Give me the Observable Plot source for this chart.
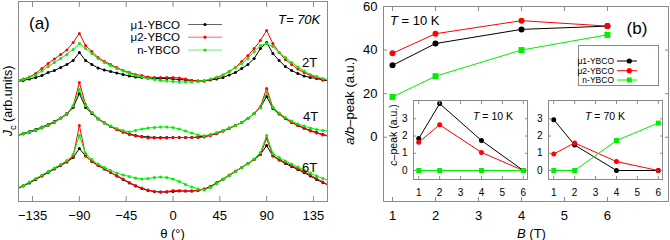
<!DOCTYPE html>
<html><head><meta charset="utf-8">
<script src="https://cdn.jsdelivr.net/npm/d3@7"></script>
<script src="https://cdn.jsdelivr.net/npm/@observablehq/plot@0.6"></script>
<style>
body{margin:0;background:#fff;}
#root{position:relative;width:670px;height:240px;overflow:hidden;background:#fff;}
#root svg{position:absolute;}
</style></head><body><div id="root"></div>
<script>
// ---------- Panel (a) data ----------
const thetaDeg = [-150,-144,-138,-132,-126,-120,-114,-108,-102,-96,-90,-84,-78,-72,-66,-60,-54,-48,-42,-36,-30,-24,-18,-12,-6,0,6,12,18,24,30,36,42,48,54,60,66,72,78,84,90,96,102,108,114,120,126,132,138,144,150];
const thetaTicks = [-135,-90,-45,0,45,90,135];
const samples = ["μ1-YBCO","μ2-YBCO","n-YBCO"];
const sampleColors = ["#000000","#ff0000","#00ee00"];
const fields = ["2T","4T","6T"];

const jc_mu1_2T = [120,121,122.5,124,126,129,131,134,137,141,149,141,137,133.5,131.5,130,128.5,127,125.5,124.5,124,123.5,123,123,123,122.5,122,121.5,121,120.5,120.5,121.5,122.5,124,126.5,129,133,137,143,153,159,148,141,135,131,128,125.5,124,123,121.5,120.5];
const jc_mu2_2T = [121,122.5,124.5,128,133,138,142.5,147,151.5,159,168,156,150,144,140,137,134,131,129,127,126,124.5,124,124,124,124,123.5,122.5,121,120.5,120.5,122,123.5,126.5,130,134,140,146,153,161,171,158,149,142,137,132.5,129,126,124,122,121];
const jc_n_2T   = [120.5,122,124,126.5,130.5,135,139,143,147,152,158,153,148,143,139,136,133,130.5,128,126,124.5,123,122,121,120.5,120,119.5,119.5,119.5,120,121,122.5,124.5,126.5,130,134,138,143,150,156,158,155,149,144,139,134.5,130.5,127,125,123,121.5];
const jc_mu1_4T = [66,68,70,72,74.5,77,80,83.5,88,94,108,94,88,82.5,78.5,75,72,69.5,67.5,66,65,64.5,64,64,64,64,64,64,64,64.5,65.5,66.5,68,70.5,73.5,76,79,83,88,94,105,93,87.5,83,79,76,73.5,71,69,67,65.5];
const jc_mu2_4T = [65.5,67.5,69,71,73.5,76,79,83,87,95,119,97,89,83,79,75,72,69.5,67,65.5,64.5,63.5,63.5,63.5,63.5,64,64,64,64,64,64.5,66,68,70.5,73,76,79,83,88,95,113,94,88,83,79,76,73,70.5,68.5,66.5,65];
const jc_n_4T   = [66,68,69.5,71.5,74,76.5,79.5,83,87.5,96,112,96,89,83,79,75.5,73,71,69.5,71,72.5,73.5,74,74.5,74.5,74,72.5,70.5,68.5,66.5,65.5,67,69,71,73.5,76,79,83,88,94,109,94,88.5,84,80.5,77.5,75.5,73.5,72,71,70.5];
const jc_mu1_6T = [12.5,15.5,18.5,22,25.5,29,32.5,36,39.5,44,53,45.5,40,36,32.5,29,25.5,22,18.5,15.5,13,11,10,9.5,9.5,10,10.5,10.5,10.5,11,12.5,15,18.5,22,26,30,34,38,42,47,56,45.5,41.5,38,35,32,29,25.5,22,19,16];
const jc_mu2_6T = [13,16,19,22.5,26,29.5,33,36.5,40,45,76,46,40,36,32.5,29,26,22.5,19,16,13.5,11.5,10,9.5,10,11,11,10.5,10.5,11,12.5,15,19,22.5,26.5,30.5,34,38,42,47,63,46,42,39,36,33,30,26.5,23,19.5,16];
const jc_n_6T   = [13,16,19.5,23,26.5,30,33.5,37,41,47,66,48,42,37.5,34,31,28.5,26.5,25,23.5,22.5,23,24,24.5,24,22.5,20,17,14.5,12.5,11.5,14,18,22,26,30,34,38,42.5,49,66,48,44,40.5,37.5,34.5,31.5,28.5,25.5,23,21];

// ---------- Panel (b) data ----------
const fieldB = [1,2,4,6];
const fieldTicksB = [1,2,3,4,5,6];
const abTicks = [0,20,40,60];
const ab_mu1_10K = [33,43,49.5,51];
const ab_mu2_10K = [38.5,47.5,53.5,51];
const ab_n_10K   = [18.5,28,40,47];
const cTicks = [0,1,2,3];
const c_mu1_10K = [1.85,3.88,1.74,0];
const c_mu2_10K = [1.64,2.65,1.05,0];
const c_n_10K   = [0,0,0,0];
const c_mu1_70K = [2.95,1.48,0,0];
const c_mu2_70K = [0.96,1.6,0.52,0];
const c_n_70K   = [0,0,1.74,2.75];

const FONT = "Liberation Sans, Arial, Helvetica, sans-serif";
const GRAY = "#8a8a8a";
const root = document.getElementById("root");

// tables built from the arrays
const seriesA = [
  [samples[0], fields[0], jc_mu1_2T],[samples[1], fields[0], jc_mu2_2T],[samples[2], fields[0], jc_n_2T],
  [samples[0], fields[1], jc_mu1_4T],[samples[1], fields[1], jc_mu2_4T],[samples[2], fields[1], jc_n_4T],
  [samples[0], fields[2], jc_mu1_6T],[samples[1], fields[2], jc_mu2_6T],[samples[2], fields[2], jc_n_6T]
];
const rowsA = seriesA.flatMap(([s,f,arr]) => thetaDeg.map((t,i) => ({theta:t, jc:arr[i], sample:s, field:f})));
const toRows = (arr, s) => fieldB.map((b,i) => ({B:b, v:arr[i], sample:s}));

function boxAxes(xt, yt, {tick=4, xPad=9, yPad=6, fs=13} = {}) {
  const m = [Plot.frame({stroke: GRAY})];
  if (xt) {
    m.push(Plot.axisX(xt, {anchor:"bottom", tickSize:-tick, stroke:GRAY, fill:"none", label:null}));
    m.push(Plot.axisX(xt, {anchor:"top", tickSize:-tick, stroke:GRAY, fill:"none", label:null}));
    m.push(Plot.axisX(xt, {anchor:"bottom", tickSize:0, tickPadding:xPad, fontSize:fs, fill:"black", label:null}));
  }
  if (yt) {
    m.push(Plot.axisY(yt, {anchor:"left", tickSize:-tick, stroke:GRAY, fill:"none", label:null}));
    m.push(Plot.axisY(yt, {anchor:"right", tickSize:-tick, stroke:GRAY, fill:"none", label:null}));
    m.push(Plot.axisY(yt, {anchor:"left", tickSize:0, tickPadding:yPad, fontSize:fs, fill:"black", label:null}));
  }
  return m;
}

function rich(svg, x, y, parts, {size=13, anchor="start", rotate=0} = {}) {
  const t = d3.select(svg).append("text")
    .attr("transform", `translate(${x},${y})` + (rotate ? ` rotate(${rotate})` : ""))
    .attr("text-anchor", anchor).attr("font-size", size).attr("font-family", FONT)
    .attr("fill", "black").attr("dy", "0.35em");
  for (const p of parts) {
    const s = t.append("tspan").text(p.t);
    if (p.i) s.attr("font-style", "italic");
    if (p.sub) s.attr("font-size", size * 0.75).attr("dy", size * 0.3);
    if (p.unsub) s.attr("dy", -size * 0.3);
  }
}
function place(svg, left, top) { svg.style.left = left + "px"; svg.style.top = top + "px"; root.appendChild(svg); }

// ---------- Panel (a) ----------
const marksA = [];
samples.forEach((s, si) => {
  const rows = rowsA.filter(d => d.sample === s);
  marksA.push(Plot.line(rows, {x:"theta", y:"jc", z:"field", stroke:sampleColors[si], strokeWidth:1, clip:true}));
  marksA.push(Plot.dot(rows, {x:"theta", y:"jc", r:1.5, fill:sampleColors[si], stroke:"none", clip:true}));
});
const plotA = Plot.plot({
  width:335, height:240, marginLeft:18, marginRight:8, marginTop:1, marginBottom:39,
  x:{domain:[-148.5,148.5], axis:null},
  y:{domain:[0,200], axis:null},
  style:{fontFamily:FONT, fontSize:"13px", background:"transparent", color:"black"},
  marks:[...marksA, ...boxAxes(thetaTicks, null, {tick:5})]
});
place(plotA, 0, 0);
rich(plotA, 29, 23, [{t:"(a)"}], {size:17});
rich(plotA, 278, 19.5, [{t:"T= 70K", i:true}], {size:13});
rich(plotA, 302, 62, [{t:fields[0]}]);
rich(plotA, 303, 116, [{t:fields[1]}]);
rich(plotA, 302, 167, [{t:fields[2]}]);
rich(plotA, 172.5, 233, [{t:"θ (°)"}], {anchor:"middle"});
rich(plotA, 8, 101, [{t:"J", i:true},{t:"c", sub:true},{t:" (arb.units)", unsub:true}], {size:12.5, anchor:"middle", rotate:-90});
{
  const g = d3.select(plotA).append("g");
  const ys = [24.5, 37.2, 50];
  samples.forEach((s, i) => {
    rich(plotA, 180, ys[i], [{t:s}], {size:11.5, anchor:"end"});
    g.append("line").attr("x1",188).attr("x2",222).attr("y1",ys[i]).attr("y2",ys[i]).attr("stroke",sampleColors[i]).attr("stroke-opacity",0.6);
    g.append("circle").attr("cx",205).attr("cy",ys[i]).attr("r",1.6).attr("fill",sampleColors[i]);
  });
}

// ---------- Panel (b) main ----------
const mainSeries = [[ab_mu1_10K, 0, "circle"], [ab_mu2_10K, 1, "circle"], [ab_n_10K, 2, "square"]];
const marksB = [];
mainSeries.forEach(([arr, si, sym]) => {
  const rows = toRows(arr, samples[si]);
  marksB.push(Plot.line(rows, {x:"B", y:"v", stroke:sampleColors[si], strokeWidth:1}));
  marksB.push(Plot.dot(rows, {x:"B", y:"v", r: sym === "square" ? 3.4 : 3, symbol:sym, fill:sampleColors[si], stroke:"none"}));
});
const plotB = Plot.plot({
  width:335, height:240, marginLeft:48, marginRight:2, marginTop:6, marginBottom:39,
  x:{domain:[0.79,7.42], axis:null},
  y:{domain:[-29.5,60], axis:null},
  style:{fontFamily:FONT, fontSize:"13px", background:"transparent", color:"black"},
  marks:[...marksB, ...boxAxes(fieldTicksB, abTicks, {tick:4})]
});
place(plotB, 335, 0);
rich(plotB, 302, 28, [{t:"(b)"}], {size:17, anchor:"middle"});
rich(plotB, 55, 20.7, [{t:"T", i:true},{t:" = 10 K"}], {size:13});
rich(plotB, 196.5, 233, [{t:"B", i:true},{t:" (T)"}], {anchor:"middle"});
rich(plotB, 14, 101, [{t:"a/b", i:true},{t:"–peak (a.u.)"}], {size:13, anchor:"middle", rotate:-90});
rich(plotB, 58, 135, [{t:"c", i:true},{t:"–peak (a.u.)"}], {size:10.5, anchor:"middle", rotate:-90});
{
  const g = d3.select(plotB).append("g");
  g.append("rect").attr("x",243.5).attr("y",45.5).attr("width",80).attr("height",40).attr("fill","white").attr("stroke",GRAY);
  const ys = [61, 70.7, 80];
  samples.forEach((s, i) => {
    rich(plotB, 279, ys[i], [{t:s}], {size:8.5, anchor:"end"});
    g.append("line").attr("x1",282).attr("x2",302).attr("y1",ys[i]).attr("y2",ys[i]).attr("stroke",sampleColors[i]);
    if (i < 2) g.append("circle").attr("cx",294.3).attr("cy",ys[i]).attr("r",2.6).attr("fill",sampleColors[i]);
    else g.append("rect").attr("x",291.8).attr("y",ys[i]-2.5).attr("width",5).attr("height",5).attr("fill",sampleColors[i]);
  });
}

// ---------- Insets ----------
function inset(seriesList, label, left, top, labelX) {
  const marks = [Plot.frame({fill:"white"})];
  seriesList.forEach(([arr, si, sym]) => {
    const rows = toRows(arr, samples[si]);
    marks.push(Plot.line(rows, {x:"B", y:"v", stroke:sampleColors[si], strokeWidth:1}));
    marks.push(Plot.dot(rows, {x:"B", y:"v", r: sym === "square" ? 2.8 : 2.5, symbol:sym, fill:sampleColors[si], stroke:"none"}));
  });
  const p = Plot.plot({
    width:145, height:110, marginLeft:25, marginRight:6, marginTop:8, marginBottom:23,
    x:{domain:[0.75,6.2], axis:null},
    y:{domain:[-0.52,4.06], axis:null},
    style:{fontFamily:FONT, fontSize:"10px", background:"transparent", color:"black"},
    marks:[...marks, ...boxAxes(fieldTicksB, cTicks, {tick:3, xPad:9, yPad:6, fs:10})]
  });
  place(p, left, top);
  rich(p, labelX, 24, [{t:"T", i:true},{t:label}], {size:10.5, anchor:"middle"});
}
inset([[c_mu1_10K,0,"circle"],[c_mu2_10K,1,"circle"],[c_n_10K,2,"square"]], " = 10 K", 388, 92, 105);
inset([[c_mu1_70K,0,"circle"],[c_mu2_70K,1,"circle"],[c_n_70K,2,"square"]], " = 70 K", 523, 92, 82);
</script></body></html>
